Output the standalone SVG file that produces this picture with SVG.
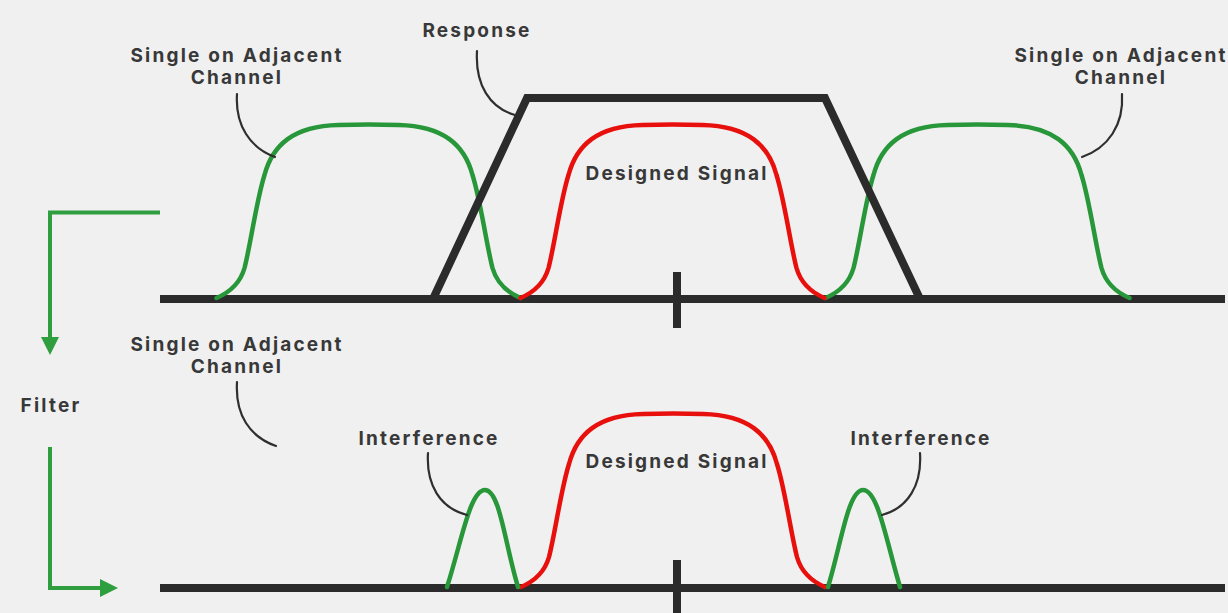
<svg xmlns="http://www.w3.org/2000/svg" width="1228" height="613" viewBox="0 0 1228 613">
  <defs>
    <style>
      .axis { stroke: #2b2b2b; stroke-width: 8; fill: none; stroke-linecap: butt; }
      .resp { stroke: #2b2b2b; stroke-width: 8; fill: none; stroke-linejoin: miter; }
      .sig { stroke: #e8100c; stroke-width: 4.5; fill: none; stroke-linecap: round; }
      .adj { stroke: #27973a; stroke-width: 4.5; fill: none; stroke-linecap: round; }
      .lead { stroke: #2f2f2f; stroke-width: 2.2; fill: none; stroke-linecap: round; }
      .flow { stroke: #2e9e3e; stroke-width: 4; fill: none; }
      .lbl { font-family: Inter, "Open Sans", "Liberation Sans", sans-serif; font-weight: 700; font-size: 19px; letter-spacing: 2.2px; fill: #383838; text-anchor: middle; }
    </style>
    <!-- one band-shaped spectrum lobe, centred on x=0, baseline y=0 -->
    <path id="lobe" d="M -152 0 C -138 -6 -128 -16 -124 -30 C -118 -53 -112 -98 -104 -123 C -96 -153 -75 -172 -30 -173 Q 0 -174 30 -173 C 75 -172 96 -153 104 -123 C 112 -98 118 -53 124 -30 C 128 -16 138 -6 152 0"/>
    <marker id="headGreen" markerWidth="4.5" markerHeight="4.5" refX="0.5" refY="2.25" orient="auto" markerUnits="strokeWidth">
      <path d="M 0 0 L 4.5 2.25 L 0 4.5 Z" fill="#2e9e3e"/>
    </marker>
  </defs>

  <rect width="1228" height="613" fill="#f0f0f0"/>

  <!-- upper spectrum: before filtering -->
  <g id="top-axis">
    <line class="axis" x1="160" y1="299" x2="1225" y2="299"/>
    <line class="axis" x1="677" y1="272" x2="677" y2="328"/>
  </g>
  <g id="left-adjacent">
    <use href="#lobe" class="adj" transform="translate(368.5 298)"/>
  </g>
  <g id="right-adjacent">
    <use href="#lobe" class="adj" transform="translate(977.5 298)"/>
  </g>
  <g id="top-designed">
    <use href="#lobe" class="sig" transform="translate(672.5 298)"/>
    <text class="lbl" x="677" y="180">Designed Signal</text>
  </g>
  <g id="response">
    <polyline class="resp" points="433,299 527,98 825,98 920,299"/>
  </g>

  <!-- lower spectrum: after filtering -->
  <g id="bottom-axis">
    <line class="axis" x1="160" y1="588" x2="1225" y2="588"/>
    <line class="axis" x1="677" y1="560" x2="677" y2="613"/>
  </g>
  <g id="bottom-designed">
    <use href="#lobe" class="sig" transform="translate(673 587)"/>
    <text class="lbl" x="677" y="468">Designed Signal</text>
  </g>
  <g id="left-interference">
    <path class="adj" d="M 447 587 C 462 540 470 490 485 490 C 500 490 505 545 518 587"/>
  </g>
  <g id="right-interference">
    <path class="adj" d="M 828 587 C 841 545 848 490 863 490 C 878 490 886 540 900 587"/>
  </g>

  <!-- annotations -->
  <g id="label-top-left">
    <text class="lbl" x="237" y="62">Single on Adjacent</text>
    <text class="lbl" x="237" y="84">Channel</text>
  </g>
  <g id="label-response">
    <text class="lbl" x="477" y="37">Response</text>
  </g>
  <g id="label-top-right">
    <text class="lbl" x="1121" y="62">Single on Adjacent</text>
    <text class="lbl" x="1121" y="84">Channel</text>
  </g>
  <g id="label-bottom-left">
    <text class="lbl" x="237" y="351">Single on Adjacent</text>
    <text class="lbl" x="237" y="373">Channel</text>
  </g>
  <g id="label-filter">
    <text class="lbl" x="51" y="412">Filter</text>
  </g>
  <g id="label-interference-left">
    <text class="lbl" x="429" y="445">Interference</text>
  </g>
  <g id="label-interference-right">
    <text class="lbl" x="921" y="445">Interference</text>
  </g>

  <g id="connectors">
    <path class="lead" d="M 237 94 C 235 125 250 148 275 157"/>
    <path class="lead" d="M 477 51 C 475 85 490 108 515 115"/>
    <path class="lead" d="M 1122 94 C 1124 125 1108 148 1082 157"/>
    <path class="lead" d="M 237 382 C 235 415 250 437 276 446"/>
    <path class="lead" d="M 428 453 C 426 485 440 508 467 515"/>
    <path class="lead" d="M 920 453 C 922 485 908 508 882 515"/>
    <!-- filter flow arrows -->
    <path class="flow" d="M 160 212.5 L 50 212.5 L 50 339" marker-end="url(#headGreen)"/>
    <path class="flow" d="M 50 447 L 50 588 L 102 588" marker-end="url(#headGreen)"/>
  </g>
</svg>
